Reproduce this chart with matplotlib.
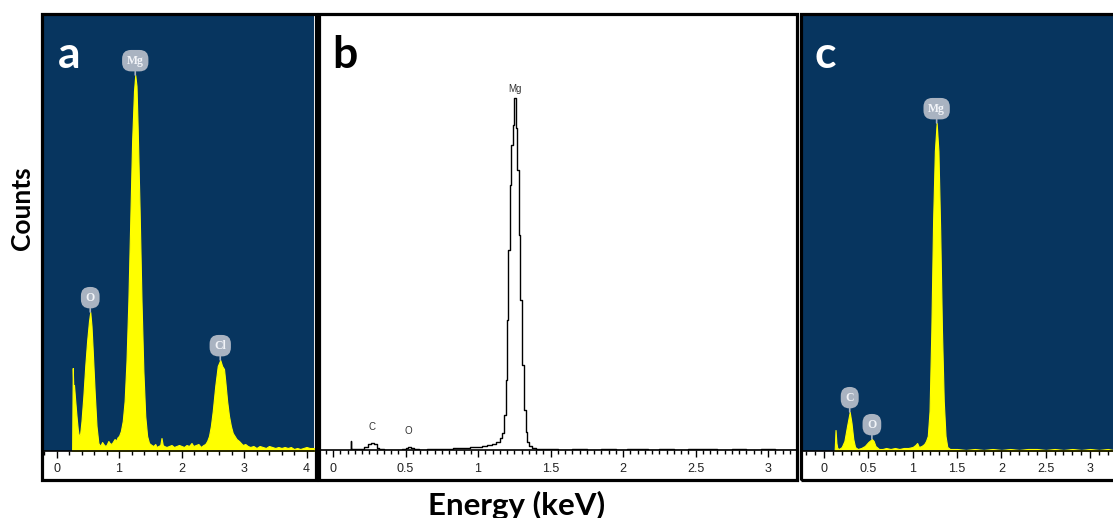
import matplotlib
matplotlib.use("Agg")
import matplotlib.pyplot as plt
from matplotlib.patches import Rectangle

W, H = 1113, 518

# ---------------- data ----------------
# Panel a : energy (keV) and counts (arbitrary units)
a_energy = [0.25, 0.26, 0.27, 0.28, 0.30, 0.32, 0.34, 0.36, 0.38, 0.40, 0.43, 0.46, 0.49,
            0.52, 0.54, 0.56, 0.58, 0.61, 0.64, 0.67, 0.70, 0.73, 0.75, 0.78, 0.80, 0.83,
            0.85, 0.88, 0.90, 0.93, 0.95, 0.98, 1.00, 1.03, 1.06, 1.09, 1.12, 1.15, 1.18,
            1.21, 1.24, 1.26, 1.28, 1.30, 1.33, 1.36, 1.39, 1.42, 1.45, 1.48, 1.52, 1.55,
            1.58, 1.60, 1.63, 1.66, 1.68, 1.70, 1.72, 1.76, 1.80, 1.84, 1.88, 1.92, 1.96,
            2.00, 2.04, 2.08, 2.12, 2.16, 2.19, 2.23, 2.27, 2.31, 2.35, 2.38, 2.41, 2.44,
            2.47, 2.50, 2.54, 2.58, 2.62, 2.65, 2.68, 2.70, 2.73, 2.76, 2.79, 2.82, 2.85,
            2.88, 2.92, 2.95, 2.98, 3.02, 3.06, 3.10, 3.15, 3.20, 3.25, 3.30, 3.35, 3.40,
            3.45, 3.50, 3.55, 3.60, 3.65, 3.70, 3.75, 3.80, 3.85, 3.90, 3.95, 4.00, 4.05,
            4.12]
a_counts = [0, 83, 62, 66, 50, 35, 22, 14, 18, 30, 55, 85, 110,
            130, 139, 125, 100, 60, 25, 8, 5, 9, 7, 5, 6, 10,
            8, 7, 9, 12, 10, 14, 15, 20, 30, 50, 90, 150, 230,
            310, 360, 376, 365, 320, 240, 150, 80, 35, 15, 8, 6, 5,
            7, 4, 5, 6, 13, 6, 5, 4, 5, 6, 4, 5, 6,
            5, 4, 6, 5, 8, 5, 6, 7, 4, 6, 7, 10, 15,
            25, 40, 65, 85, 91, 85, 82, 70, 50, 35, 25, 18, 15,
            12, 10, 8, 6, 7, 5, 4, 5, 3, 5, 4, 3, 5,
            4, 3, 4, 3, 4, 3, 4, 2, 3, 2, 3, 4, 3,
            3]

# Panel b
b_energy = [0.120, 0.124, 0.128, 0.135, 0.16, 0.20, 0.23, 0.25, 0.27, 0.29, 0.31, 0.33,
            0.37, 0.42, 0.46, 0.49, 0.51, 0.53, 0.55, 0.57, 0.62, 0.68, 0.74, 0.80, 0.86,
            0.92, 0.97, 1.01, 1.05, 1.08, 1.11, 1.14, 1.16, 1.175, 1.185, 1.195, 1.205,
            1.215, 1.225, 1.235, 1.245, 1.258, 1.264, 1.275, 1.287, 1.299, 1.311, 1.323,
            1.335, 1.345, 1.36, 1.38, 1.42, 1.50, 1.60, 1.70, 1.80, 1.90, 2.00, 2.06,
            2.10, 2.14, 2.20, 2.30, 2.40, 2.50, 2.56, 2.60, 2.70, 2.80, 2.90, 3.00, 3.10,
            3.19]
b_counts = [0, 9, 1, 1, 1, 1, 3, 6, 7, 6, 2, 1,
            0.5, 0.5, 0.5, 1, 2, 3, 2, 1, 0.5, 1, 1.5, 1.5, 2,
            2, 3, 3, 4, 5, 6, 8, 12, 17, 35, 70, 130,
            200, 265, 305, 325, 352, 322, 280, 215, 150, 85, 40,
            18, 8, 4, 2, 1, 1, 0.5, 1, 0.5, 1, 0.5, 1.5,
            1, 1.5, 0.5, 1, 0.5, 1, 1.5, 1, 0.5, 1, 0.5, 1, 0.5,
            0.5]

# Panel c
c_energy = [0.12, 0.13, 0.14, 0.15, 0.17, 0.20, 0.23, 0.26, 0.29, 0.31, 0.33, 0.35, 0.38,
            0.42, 0.46, 0.50, 0.54, 0.56, 0.58, 0.62, 0.66, 0.70, 0.75, 0.80, 0.85, 0.90,
            0.95, 1.00, 1.03, 1.05, 1.07, 1.10, 1.13, 1.15, 1.17, 1.19, 1.21, 1.23, 1.25,
            1.27, 1.29, 1.31, 1.33, 1.35, 1.37, 1.39, 1.42, 1.50, 1.60, 1.70, 1.80, 1.90,
            2.00, 2.10, 2.20, 2.30, 2.40, 2.50, 2.60, 2.70, 2.80, 2.90, 3.00, 3.10, 3.20,
            3.26]
c_counts = [0, 21, 8, 3, 2, 4, 10, 25, 39, 28, 12, 4, 2,
            3, 5, 9, 12, 10, 5, 2, 2, 3, 2, 3, 2, 3,
            3, 4, 6, 8, 4, 5, 7, 10, 15, 40, 120, 230, 300,
            328, 300, 220, 120, 50, 15, 4, 2, 2, 1, 2, 1, 2,
            1, 2, 1, 2, 2, 1, 2, 1, 2, 1, 2, 1, 2,
            1]

# peak labels: (element, energy, counts)
a_peaks = [("O", 0.54, 139), ("Mg", 1.26, 376), ("Cl", 2.62, 91)]
b_peaks = [("C", 0.27, 7), ("O", 0.52, 3), ("Mg", 1.258, 352)]
c_peaks = [("C", 0.29, 39), ("O", 0.54, 12), ("Mg", 1.27, 328)]

# ---------------- styling ----------------
NAVY = "#07355f"
YELLOW = "#ffff00"
BUBBLE = "#a9b3c1"

fig = plt.figure(figsize=(W / 100, H / 100), dpi=100)
fig.patch.set_facecolor("white")


def frect(x0, y0, x1, y1):
    return [x0 / W, 1 - y1 / H, (x1 - x0) / W, (y1 - y0) / H]


def style_axis(ax, xlim, ylim, major, minor, labels):
    ax.set_xlim(*xlim)
    ax.set_ylim(*ylim)
    for s in ["top", "left", "right"]:
        ax.spines[s].set_visible(False)
    ax.spines["bottom"].set_linewidth(1.2)
    ax.spines["bottom"].set_color("black")
    ax.set_yticks([])
    ax.set_xticks(major)
    ax.set_xticklabels(labels)
    ax.set_xticks(minor, minor=True)
    ax.tick_params(axis="x", which="major", direction="out", length=5, width=1,
                   pad=4, labelsize=9, labelcolor="#222222")
    ax.tick_params(axis="x", which="minor", direction="out", length=3, width=1)
    for lab in ax.get_xticklabels():
        lab.set_fontfamily("Liberation Sans")


def bubble(ax, name, x, y, off=6):
    ax.annotate(name, xy=(x, y), xytext=(0, off), textcoords="offset points",
                ha="center", va="bottom", fontsize=8.5, fontweight="bold",
                color="#f2f4f8", family="Liberation Serif",
                bbox=dict(boxstyle="round,pad=0.4,rounding_size=0.75", fc=BUBBLE, ec="none"),
                arrowprops=dict(arrowstyle="-", color=BUBBLE, lw=1.2,
                                shrinkA=0, shrinkB=0))


# ---- panel a ----
axa = fig.add_axes(frect(43, 15, 314, 451))
axa.set_facecolor(NAVY)
axa.fill_between(a_energy, a_counts, 0, color=YELLOW, lw=0.8, edgecolor=YELLOW)
style_axis(axa, ((43 - 56.5) / 62.5, (314 - 56.5) / 62.5), (0, 436),
           [0, 1, 2, 3, 4], [0.2 * i for i in range(-1, 21)], ["0", "1", "2", "3", "4"])
for name, x, y in a_peaks:
    bubble(axa, name, x, y)

# ---- panel b ----
axb = fig.add_axes(frect(320, 15, 796, 450))
axb.set_facecolor("white")
axb.plot(b_energy, b_counts, color="black", lw=1.0, drawstyle="steps-mid")
style_axis(axb, ((320 - 333) / 145, (796 - 333) / 145), (0, 435),
           [0, 0.5, 1, 1.5, 2, 2.5, 3], [0.05 * i for i in range(-1, 64)],
           ["0", "0.5", "1", "1.5", "2", "2.5", "3"])
for name, x, y in b_peaks:
    axb.annotate(name, xy=(x, y), xytext=(0, 3 if name == "Mg" else 8),
                 textcoords="offset points", ha="center", va="bottom",
                 fontsize=7, color="#333333", family="Liberation Sans")

# ---- panel c ----
axc = fig.add_axes(frect(803, 15, 1113, 451))
axc.set_facecolor(NAVY)
axc.fill_between(c_energy, c_counts, 0, color=YELLOW, lw=0.8, edgecolor=YELLOW)
style_axis(axc, ((803 - 824) / 88.7, (1113 - 824) / 88.7), (0, 436),
           [0, 0.5, 1, 1.5, 2, 2.5, 3], [0.1 * i for i in range(-2, 33)],
           ["0", "0.5", "1", "1.5", "2", "2.5", "3"])
for name, x, y in c_peaks:
    bubble(axc, name, x, y)

# ---- panel borders ----
for (x0, x1) in [(41.5, 315.5), (318.5, 797.0), (801.0, 1125.0)]:
    fig.patches.append(Rectangle((x0 / W, 1 - 479.5 / H), (x1 - x0) / W, (479.5 - 13.5) / H,
                                 transform=fig.transFigure, fill=False, ec="black",
                                 lw=2.3, zorder=10))

# ---- panel letters ----
bold_font = ["Lato", "DejaVu Sans"]
for txt, xp, col in [("a", 69, "white"), ("b", 345, "black"), ("c", 825, "white")]:
    fig.text(xp / W, 1 - 55 / H, txt, color=col, fontsize=32, fontweight="bold",
             family=bold_font, ha="center", va="center")

# ---- axis titles ----
fig.text(22 / W, 1 - 208 / H, "Counts", rotation=90, fontsize=19, fontweight="bold",
         family=bold_font, ha="center", va="center")
fig.text(517 / W, 1 - 505 / H, "Energy (keV)", fontsize=22.5, fontweight="bold",
         family=bold_font, ha="center", va="center")

fig.savefig("out.png", dpi=100)
